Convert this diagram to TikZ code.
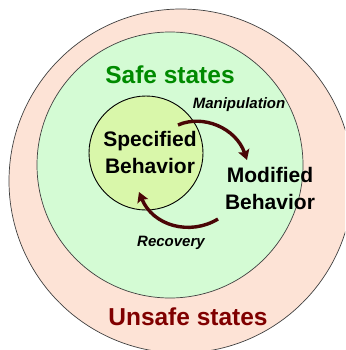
\documentclass[tikz,border=0pt]{standalone}
\usepackage{fontspec}
\setmainfont{Liberation Sans}
\usetikzlibrary{arrows.meta}
\definecolor{unsafefill}{HTML}{FDE3D6}
\definecolor{safefill}{HTML}{D4FBD4}
\definecolor{specfill}{HTML}{D9F7AA}
\definecolor{safetext}{HTML}{008A00}
\definecolor{unsafetext}{HTML}{800000}
\definecolor{arrowcol}{HTML}{4A0606}
\tikzset{
  ring/.style={draw=black!75, line width=0.7pt},
  bigtext/.style={font=\bfseries\fontsize{24.5}{28}\selectfont, inner sep=0pt},
  behtext/.style={font=\bfseries\fontsize{21}{27}\selectfont, align=center, inner sep=0pt},
  labtext/.style={font=\bfseries\itshape\fontsize{15}{18}\selectfont, inner sep=0pt},
  flow/.style={draw=arrowcol, line width=3.4pt, -{Stealth[length=10pt,width=11.5pt,inset=2pt]}}
}
\begin{document}
\begin{tikzpicture}[x=1pt,y=-1pt]
\useasboundingbox (0,0) rectangle (345,350);
\clip (0,0) rectangle (345,350);
\fill[white] (0,0) rectangle (345,350);
\filldraw[ring, fill=unsafefill] (181,181) circle[radius=172];
\filldraw[ring, fill=safefill] (170,165) circle[radius=133];
\filldraw[draw=black, line width=0.9pt, fill=specfill] (146,153) circle[radius=57];
\node[bigtext, text=safetext] (safe) at (170,75) {Safe states};
\node[bigtext, text=unsafetext] (unsafe) at (188,317) {Unsafe states};
\node[behtext] (spec) at (150,152) {Specified\\Behavior};
\node[behtext] (mod) at (270,188) {Modified\\Behavior};
\node[labtext] (manip) at (239,105) {Manipulation};
\node[labtext] (recov) at (171,243) {Recovery};
\coordinate (m1) at (178,125);
\coordinate (m2) at (247,160);
\coordinate (r1) at (218,219);
\coordinate (r2) at (139,192);
\draw[flow] (m1) .. controls (203,114) and (236,128) .. (m2);
\draw[flow] (r1) .. controls (190,236) and (153,226) .. (r2);
\end{tikzpicture}
\end{document}
